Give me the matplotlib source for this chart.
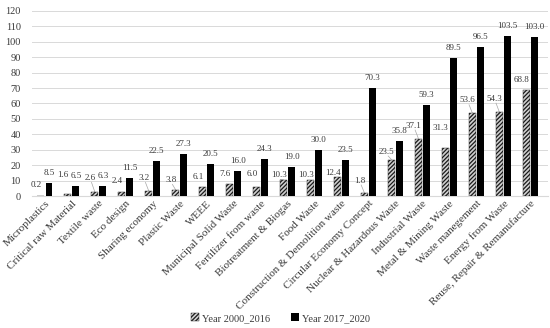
import matplotlib.pyplot as plt
import numpy as np

# Kategorien und Werte
categories = ["Microplastics", "Critical raw Material", "Textile waste", "Eco design",
              "Sharing economy", "Plastic Waste", "WEEE", "Municipal Solid Waste",
              "Fertilizer from waste", "Biotreatment & Biogas", "Food Waste",
              "Construction & Demolition waste", "Circular Economy Concept",
              "Nuclear & Hazardous Waste", "Industrial Waste", "Metal & Mining Waste",
              "Waste manegement", "Energy from Waste", "Reuse, Repair & Remanufacture"]
y2000_2016 = [0.2, 1.6, 2.6, 2.4, 3.2, 3.8, 6.1, 7.6, 6.0, 10.3, 10.3, 12.4, 1.8,
              23.5, 37.1, 31.3, 53.6, 54.3, 68.8]
y2017_2020 = [8.5, 6.5, 6.3, 11.5, 22.5, 27.3, 20.5, 16.0, 24.3, 19.0, 30.0, 23.5, 70.3,
              35.8, 59.3, 89.5, 96.5, 103.5, 103.0]

# Lage der Beschriftungen der schraffierten Balken (wie im Original verschoben)
label_y_a = [7, 14, 11.7, 9.7, 11.7, 10.4, 12.5, 14.3, 14.3, 13.6, 13.6, 15, 10,
             28.8, 45.6, 44, 62, 63, 75]
leader = [0, 0, 1, 0, 1, 1, 0, 0, 0, 1, 0, 0, 1, 1, 1, 0, 1, 1, 0]

plt.rcParams["font.family"] = ["Liberation Serif", "DejaVu Serif"]
plt.rcParams["hatch.linewidth"] = 0.9

fig = plt.figure(figsize=(5.5, 3.28), dpi=100)
ax = fig.add_axes([0.058, 0.402, 0.938, 0.565])

x = np.arange(len(categories))
w = 0.25
off = 0.15

ax.bar(x - off, y2000_2016, w, facecolor="#d0d0d0", edgecolor="#1a1a1a", hatch="////////",
       linewidth=0.3, label="Year 2000_2016", zorder=3)
ax.bar(x + off, y2017_2020, w, color="black", label="Year 2017_2020", zorder=3)

# Datenbeschriftungen
for i in range(len(categories)):
    ax.text(x[i] + off, y2017_2020[i] + 6.5, f"{y2017_2020[i]:.1f}", ha="center",
            va="center", fontsize=6.5, color="#3a3a3a")
    lx = x[i] - off - 0.17
    ax.text(lx, label_y_a[i], f"{y2000_2016[i]:.1f}", ha="center", va="center",
            fontsize=6.5, color="#3a3a3a")
    if leader[i]:
        ax.plot([x[i] - off, lx + 0.05], [y2000_2016[i] + 0.3, label_y_a[i] - 2.8],
                color="#a6a6a6", linewidth=0.5, zorder=2)

ax.set_ylim(0, 120)
ax.set_yticks(np.arange(0, 121, 10))
ax.set_xlim(-0.48, 18.65)
ax.set_xticks(x)
ax.set_xticklabels(categories, rotation=45, ha="right", rotation_mode="anchor",
                   fontsize=8, color="#3a3a3a")
ax.tick_params(axis="y", labelsize=7.5, colors="#3a3a3a", length=0, pad=8)
ax.tick_params(axis="x", length=0, pad=2)

ax.grid(True, axis="y", color="#d9d9d9", linewidth=0.7, zorder=0)
for s in ["top", "right", "left"]:
    ax.spines[s].set_visible(False)
ax.spines["bottom"].set_color("#d9d9d9")

fig.legend(loc="center", bbox_to_anchor=(0.51, 0.03), ncol=2, frameon=False,
           fontsize=7.5, handlelength=0.8, handleheight=0.8, handletextpad=0.3,
           columnspacing=2.0, labelcolor="#3a3a3a")

fig.savefig("out.png", dpi=100)
